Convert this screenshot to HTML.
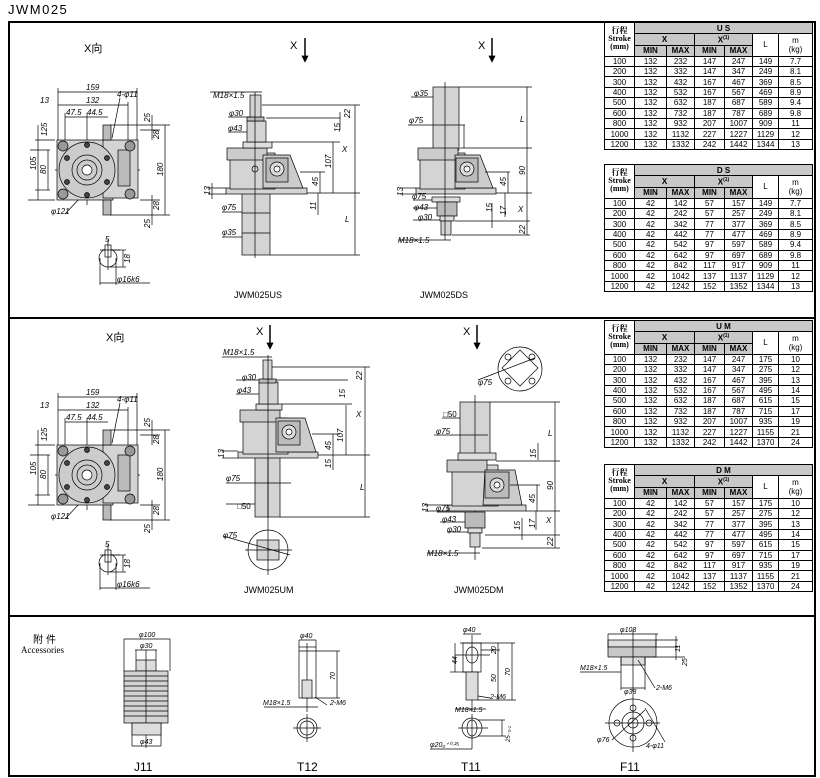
<!DOCTYPE html>
<html><head><meta charset="utf-8"><style>
body{margin:0;background:#fff;width:820px;height:778px;position:relative;overflow:hidden;font-family:"Liberation Sans",sans-serif}
svg{position:absolute;left:0;top:0}
table{position:absolute;border-collapse:collapse;table-layout:fixed;width:208px;left:604px;font-family:"Liberation Sans","Noto Sans CJK SC",sans-serif;font-size:8px}
td{border:1px solid #000;text-align:center;padding:0;line-height:9px;height:9.4px;overflow:hidden;white-space:nowrap}
td.h{background:#c8c8c8;font-weight:bold}
td.s{font-family:"Liberation Serif","Noto Serif CJK SC",serif;font-size:8px;line-height:8px;font-weight:bold}
tr.hd td{height:10px}
</style></head><body>
<svg width="820" height="778" viewBox="0 0 820 778" font-family="Liberation Sans, Noto Sans CJK SC, sans-serif">
<text x="8" y="14" font-size="13" letter-spacing="1.5">JWM025</text>
<rect x="9" y="22" width="806" height="754" fill="none" stroke="#000" stroke-width="2"/>
<line x1="9" y1="318" x2="815" y2="318" stroke="#000" stroke-width="2"/>
<line x1="9" y1="616" x2="815" y2="616" stroke="#000" stroke-width="2"/>

<text x="84" y="52" font-size="11">X向</text>
<text x="106" y="341" font-size="11">X向</text>
<!-- X-view, top and middle -->
<g id="xv" stroke="#000" stroke-width="0.7" font-size="8" font-style="italic">
<g fill="none">
<line x1="58" y1="92" x2="137" y2="92"/><line x1="58" y1="105" x2="128" y2="105"/><line x1="65" y1="117" x2="108" y2="117"/>
<line x1="58" y1="88" x2="58" y2="200"/><line x1="137" y1="88" x2="137" y2="145"/><line x1="128" y1="102" x2="128" y2="145"/>
<line x1="65" y1="113" x2="65" y2="145"/><line x1="87" y1="113" x2="87" y2="205"/>
<line x1="35" y1="140" x2="55" y2="140"/><line x1="28" y1="200" x2="55" y2="200"/><line x1="30" y1="150" x2="50" y2="150"/><line x1="35" y1="190" x2="50" y2="190"/>
<line x1="38" y1="125" x2="38" y2="200"/><line x1="48" y1="150" x2="48" y2="190"/>
<line x1="110" y1="125" x2="170" y2="125"/><line x1="110" y1="215" x2="170" y2="215"/><line x1="165" y1="125" x2="165" y2="215"/>
<line x1="140" y1="130" x2="160" y2="130"/><line x1="140" y1="200" x2="160" y2="200"/><line x1="152" y1="115" x2="152" y2="140"/><line x1="152" y1="195" x2="152" y2="225"/>
<line x1="55" y1="170" x2="140" y2="170"/>
<line x1="120" y1="98" x2="112" y2="138"/><line x1="65" y1="214" x2="80" y2="198"/>
</g>
<text x="86" y="90" stroke="none">159</text><text x="86" y="103" stroke="none">132</text><text x="40" y="103" stroke="none">13</text>
<text x="66" y="115" stroke="none">47.5</text><text x="87" y="115" stroke="none">44.5</text><text x="117" y="97" stroke="none">4-φ11</text>
<text x="51" y="214" stroke="none">φ121</text>
<text transform="translate(36,170) rotate(-90)" stroke="none">105</text><text transform="translate(46,174) rotate(-90)" stroke="none">80</text>
<text transform="translate(47,136) rotate(-90)" stroke="none">125</text><text transform="translate(163,176) rotate(-90)" stroke="none">180</text>
<text transform="translate(150,122) rotate(-90)" stroke="none">25</text><text transform="translate(159,139) rotate(-90)" stroke="none">28</text>
<text transform="translate(159,210) rotate(-90)" stroke="none">28</text><text transform="translate(150,228) rotate(-90)" stroke="none">25</text>
<rect x="57" y="140" width="56" height="60" fill="#d4d4d4"/>
<rect x="103" y="140" width="35" height="58" fill="#d4d4d4"/>
<rect x="118" y="150" width="12" height="36" fill="#bbb"/>
<rect x="103" y="125" width="8" height="15" fill="#bbb"/><rect x="103" y="200" width="8" height="15" fill="#bbb"/>
<circle cx="87" cy="170" r="28" fill="#ccc"/>
<circle cx="87" cy="170" r="15" fill="none"/><circle cx="87" cy="170" r="10" fill="none"/><circle cx="87" cy="170" r="5" fill="#fff"/>
<circle cx="63" cy="146" r="5" fill="#999"/><circle cx="63" cy="194" r="5" fill="#999"/><circle cx="130" cy="146" r="5" fill="#999"/><circle cx="130" cy="194" r="5" fill="#999"/>
<circle cx="87" cy="145" r="2.5" fill="#444"/><circle cx="87" cy="195" r="2.5" fill="#444"/><circle cx="67" cy="158" r="2.5" fill="#444"/><circle cx="107" cy="158" r="2.5" fill="#444"/><circle cx="67" cy="182" r="2.5" fill="#444"/><circle cx="107" cy="182" r="2.5" fill="#444"/>
<circle cx="108" cy="258" r="9" fill="#fff"/><rect x="105" y="245" width="6" height="12" fill="#fff"/>
<g fill="none"><line x1="100" y1="250" x2="120" y2="250"/><line x1="112" y1="250" x2="126" y2="250"/><line x1="110" y1="267" x2="126" y2="267"/><line x1="123" y1="250" x2="123" y2="267"/><line x1="100" y1="258" x2="100" y2="285"/><line x1="116" y1="258" x2="116" y2="285"/><line x1="100" y1="283" x2="150" y2="283"/><line x1="108" y1="240" x2="108" y2="270"/></g>
<text x="105" y="242" stroke="none">5</text><text transform="translate(130,263) rotate(-90)" stroke="none">18</text><text x="117" y="282" stroke="none">φ16k6</text>
</g>
<use href="#xv" transform="translate(0,305)"/>

<!-- US -->
<g stroke="#000" stroke-width="0.7" font-size="8" font-style="italic">
<text x="290" y="49" font-size="11" font-style="normal" stroke="none">X</text><line x1="305" y1="38" x2="305" y2="58" stroke-width="1.5"/><path d="M302,56 L305,62 L308,56Z"/>
<rect x="242" y="193" width="28" height="62" fill="#d4d4d4"/>
<line x1="242" y1="213" x2="270" y2="213"/><line x1="242" y1="233" x2="270" y2="233"/>
<rect x="226" y="188" width="81" height="6" fill="#d4d4d4"/>
<rect x="230" y="153" width="45" height="36" fill="#d4d4d4"/>
<rect x="227" y="148" width="40" height="12" fill="#ccc"/>
<path d="M263,155 L290,155 L303,188 L263,188Z" fill="#ccc"/>
<rect x="266" y="158" width="22" height="24" fill="#bbb"/><circle cx="277" cy="169" r="7" fill="#ddd"/><circle cx="277" cy="169" r="3" fill="#fff"/>
<rect x="243" y="142" width="29" height="6" fill="#ddd"/>
<rect x="247" y="121" width="19" height="21" fill="#d4d4d4"/>
<rect x="247" y="117" width="17" height="4" fill="#bbb"/>
<rect x="250" y="95" width="11" height="22" fill="#d4d4d4"/>
<circle cx="255" cy="169" r="3" fill="none"/>
<g fill="none">
<line x1="255" y1="92" x2="255" y2="258"/><line x1="262" y1="105" x2="360" y2="105"/><line x1="266" y1="118" x2="340" y2="118"/><line x1="272" y1="142" x2="340" y2="142"/>
<line x1="210" y1="92" x2="262" y2="92"/><line x1="228" y1="117" x2="250" y2="117"/><line x1="228" y1="132" x2="247" y2="132"/>
<line x1="222" y1="212" x2="242" y2="212"/><line x1="222" y1="237" x2="242" y2="237"/>
<line x1="300" y1="172" x2="325" y2="172"/><line x1="307" y1="193" x2="360" y2="193"/><line x1="270" y1="255" x2="360" y2="255"/>
<line x1="355" y1="105" x2="355" y2="255"/><line x1="333" y1="142" x2="333" y2="193"/><line x1="320" y1="172" x2="320" y2="193"/><line x1="318" y1="193" x2="318" y2="215"/><line x1="340" y1="112" x2="340" y2="130"/>
<line x1="208" y1="188" x2="226" y2="188"/><line x1="208" y1="194" x2="226" y2="194"/><line x1="212" y1="183" x2="212" y2="199"/>
</g>
<text x="213" y="98" stroke="none">M18×1.5</text><text x="229" y="116" stroke="none">φ30</text><text x="228" y="131" stroke="none">φ43</text><text x="222" y="210" stroke="none">φ75</text><text x="222" y="235" stroke="none">φ35</text>
<text transform="translate(350,118) rotate(-90)" stroke="none">22</text><text transform="translate(340,132) rotate(-90)" stroke="none">15</text><text x="342" y="152" stroke="none">X</text>
<text transform="translate(331,168) rotate(-90)" stroke="none">107</text><text transform="translate(318,186) rotate(-90)" stroke="none">45</text><text transform="translate(316,210) rotate(-90)" stroke="none">11</text><text transform="translate(210,195) rotate(-90)" stroke="none">13</text><text x="345" y="222" stroke="none">L</text>
<text x="234" y="298" font-size="9" font-style="normal" stroke="none">JWM025US</text>
</g>

<!-- DS -->
<g stroke="#000" stroke-width="0.7" font-size="8" font-style="italic">
<text x="478" y="49" font-size="11" font-style="normal" stroke="none">X</text><line x1="492" y1="38" x2="492" y2="58" stroke-width="1.5"/><path d="M489,56 L492,62 L495,56Z"/>
<rect x="433" y="87" width="26" height="63" fill="#d4d4d4"/>
<rect x="416" y="188" width="80" height="6" fill="#d4d4d4"/>
<rect x="420" y="153" width="45" height="36" fill="#d4d4d4"/>
<rect x="418" y="148" width="40" height="12" fill="#ccc"/>
<path d="M455,155 L480,155 L493,188 L455,188Z" fill="#ccc"/>
<rect x="456" y="158" width="22" height="24" fill="#bbb"/><circle cx="467" cy="169" r="7" fill="#ddd"/><circle cx="467" cy="169" r="3" fill="#fff"/>
<rect x="432" y="197" width="28" height="5" fill="#ddd"/><rect x="437" y="202" width="20" height="14" fill="#bbb"/><rect x="440" y="216" width="14" height="5" fill="#ddd"/><rect x="441" y="221" width="10" height="14" fill="#d4d4d4"/>
<g fill="none">
<line x1="445" y1="82" x2="445" y2="240"/><line x1="459" y1="87" x2="532" y2="87"/><line x1="460" y1="148" x2="532" y2="148"/><line x1="496" y1="193" x2="532" y2="193"/>
<line x1="485" y1="172" x2="510" y2="172"/><line x1="527" y1="87" x2="527" y2="235"/><line x1="508" y1="172" x2="508" y2="193"/><line x1="505" y1="193" x2="505" y2="217"/><line x1="455" y1="221" x2="530" y2="221"/><line x1="452" y1="235" x2="530" y2="235"/><line x1="492" y1="203" x2="492" y2="228"/>
<line x1="411" y1="97" x2="433" y2="97"/><line x1="408" y1="125" x2="465" y2="125"/><line x1="464" y1="125" x2="464" y2="148"/><line x1="413" y1="200" x2="432" y2="200"/><line x1="413" y1="208" x2="437" y2="208"/><line x1="413" y1="220" x2="440" y2="220"/><line x1="398" y1="240" x2="451" y2="240"/>
<line x1="400" y1="188" x2="416" y2="188"/><line x1="400" y1="194" x2="416" y2="194"/>
</g>
<text x="414" y="96" stroke="none">φ35</text><text x="409" y="123" stroke="none">φ75</text><text x="412" y="199" stroke="none">φ75</text><text x="414" y="210" stroke="none">φ43</text><text x="418" y="220" stroke="none">φ30</text><text x="398" y="243" stroke="none">M18×1.5</text>
<text x="520" y="122" stroke="none">L</text><text transform="translate(525,175) rotate(-90)" stroke="none">90</text><text transform="translate(506,186) rotate(-90)" stroke="none">45</text><text x="518" y="212" stroke="none">X</text>
<text transform="translate(506,215) rotate(-90)" stroke="none">17</text><text transform="translate(492,212) rotate(-90)" stroke="none">15</text><text transform="translate(525,234) rotate(-90)" stroke="none">22</text><text transform="translate(403,196) rotate(-90)" stroke="none">13</text>
<text x="420" y="298" font-size="9" font-style="normal" stroke="none">JWM025DS</text>
</g>

<!-- UM -->
<g stroke="#000" stroke-width="0.7" font-size="8" font-style="italic">
<text x="256" y="335" font-size="11" font-style="normal" stroke="none">X</text><line x1="270" y1="325" x2="270" y2="345" stroke-width="1.5"/><path d="M267,343 L270,349 L273,343Z"/>
<rect x="255" y="457" width="25" height="60" fill="#d4d4d4"/><line x1="268" y1="457" x2="268" y2="517"/>
<rect x="238" y="452" width="80" height="6" fill="#d4d4d4"/>
<rect x="243" y="418" width="45" height="36" fill="#d4d4d4"/>
<rect x="240" y="410" width="40" height="12" fill="#ccc"/>
<path d="M276,418 L305,418 L316,452 L276,452Z" fill="#ccc"/>
<rect x="278" y="421" width="22" height="24" fill="#bbb"/><circle cx="289" cy="432" r="7" fill="#ddd"/><circle cx="289" cy="432" r="3" fill="#fff"/>
<rect x="256" y="404" width="26" height="6" fill="#ddd"/><rect x="259" y="382" width="19" height="22" fill="#d4d4d4"/><rect x="259" y="379" width="17" height="4" fill="#bbb"/><rect x="263" y="360" width="9" height="19" fill="#d4d4d4"/>
<circle cx="268" cy="550" r="20" fill="none"/><rect x="257" y="540" width="22" height="20" fill="#d4d4d4"/>
<g fill="none">
<line x1="268" y1="355" x2="268" y2="575"/><line x1="245" y1="550" x2="292" y2="550"/><line x1="223" y1="536" x2="290" y2="555"/>
<line x1="272" y1="367" x2="370" y2="367"/><line x1="276" y1="380" x2="348" y2="380"/><line x1="282" y1="404" x2="352" y2="404"/><line x1="318" y1="455" x2="370" y2="455"/><line x1="280" y1="517" x2="370" y2="517"/>
<line x1="365" y1="367" x2="365" y2="517"/><line x1="346" y1="405" x2="346" y2="455"/><line x1="333" y1="434" x2="333" y2="470"/><line x1="312" y1="434" x2="340" y2="434"/>
<line x1="222" y1="357" x2="272" y2="357"/><line x1="236" y1="380" x2="259" y2="380"/><line x1="236" y1="394" x2="259" y2="394"/><line x1="226" y1="483" x2="291" y2="483"/><line x1="226" y1="504" x2="255" y2="504"/>
<line x1="222" y1="451" x2="238" y2="451"/><line x1="222" y1="458" x2="238" y2="458"/>
</g>
<text x="223" y="355" stroke="none">M18×1.5</text><text x="242" y="380" stroke="none">φ30</text><text x="237" y="393" stroke="none">φ43</text><text x="226" y="481" stroke="none">φ75</text><text x="237" y="509" font-style="normal" stroke="none">□50</text><text x="223" y="538" stroke="none">φ75</text>
<text transform="translate(362,380) rotate(-90)" stroke="none">22</text><text transform="translate(345,398) rotate(-90)" stroke="none">15</text><text x="356" y="417" stroke="none">X</text>
<text transform="translate(343,442) rotate(-90)" stroke="none">107</text><text transform="translate(331,450) rotate(-90)" stroke="none">45</text><text transform="translate(331,468) rotate(-90)" stroke="none">15</text><text x="360" y="490" stroke="none">L</text><text transform="translate(224,458) rotate(-90)" stroke="none">13</text>
<text x="244" y="593" font-size="9" font-style="normal" stroke="none">JWM025UM</text>
</g>

<!-- DM -->
<g stroke="#000" stroke-width="0.7" font-size="8" font-style="italic">
<text x="463" y="335" font-size="11" font-style="normal" stroke="none">X</text><line x1="477" y1="325" x2="477" y2="345" stroke-width="1.5"/><path d="M474,343 L477,349 L480,343Z"/>
<circle cx="520" cy="369" r="22" fill="none"/><path d="M520,350 L538,368 L520,386 L502,368Z" fill="none"/>
<circle cx="508" cy="357" r="3" fill="none"/><circle cx="532" cy="357" r="3" fill="none"/><circle cx="508" cy="381" r="3" fill="none"/><circle cx="532" cy="381" r="3" fill="none"/>
<line x1="478" y1="380" x2="535" y2="358" fill="none"/>
<rect x="460" y="402" width="30" height="53" fill="#d4d4d4"/><line x1="475" y1="395" x2="475" y2="560"/>
<rect x="448" y="505" width="78" height="6" fill="#d4d4d4"/>
<rect x="452" y="465" width="46" height="41" fill="#d4d4d4"/>
<rect x="447" y="460" width="40" height="12" fill="#ccc"/><rect x="458" y="453" width="38" height="7" fill="#ddd"/>
<path d="M485,470 L515,470 L522,505 L483,505Z" fill="#ccc"/>
<rect x="485" y="472" width="24" height="26" fill="#bbb"/><circle cx="497" cy="485" r="7" fill="#ddd"/><circle cx="497" cy="485" r="3" fill="#fff"/>
<rect x="465" y="512" width="20" height="16" fill="#bbb"/><rect x="468" y="528" width="14" height="5" fill="#ddd"/><rect x="470" y="533" width="10" height="14" fill="#d4d4d4"/>
<g fill="none">
<line x1="490" y1="402" x2="560" y2="402"/><line x1="496" y1="461" x2="560" y2="461"/><line x1="526" y1="511" x2="560" y2="511"/><line x1="485" y1="535" x2="560" y2="535"/><line x1="482" y1="548" x2="560" y2="548"/>
<line x1="555" y1="402" x2="555" y2="548"/><line x1="538" y1="443" x2="538" y2="460"/><line x1="537" y1="485" x2="537" y2="511"/><line x1="536" y1="511" x2="536" y2="530"/><line x1="522" y1="518" x2="522" y2="540"/><line x1="510" y1="485" x2="540" y2="485"/>
<line x1="442" y1="418" x2="460" y2="418"/><line x1="434" y1="435" x2="488" y2="435"/><line x1="437" y1="512" x2="465" y2="512"/><line x1="440" y1="522" x2="465" y2="522"/><line x1="447" y1="532" x2="468" y2="532"/><line x1="427" y1="553" x2="480" y2="553"/>
<line x1="425" y1="505" x2="448" y2="505"/><line x1="425" y1="511" x2="448" y2="511"/>
</g>
<text x="478" y="385" stroke="none">φ75</text><text x="443" y="417" font-style="normal" stroke="none">□50</text><text x="436" y="434" stroke="none">φ75</text><text x="436" y="511" stroke="none">φ75</text><text x="442" y="522" stroke="none">φ43</text><text x="447" y="532" stroke="none">φ30</text><text x="427" y="556" stroke="none">M18×1.5</text>
<text x="548" y="436" stroke="none">L</text><text transform="translate(536,458) rotate(-90)" stroke="none">15</text><text transform="translate(553,490) rotate(-90)" stroke="none">90</text><text transform="translate(535,503) rotate(-90)" stroke="none">45</text><text x="546" y="523" stroke="none">X</text>
<text transform="translate(535,528) rotate(-90)" stroke="none">17</text><text transform="translate(520,530) rotate(-90)" stroke="none">15</text><text transform="translate(553,546) rotate(-90)" stroke="none">22</text><text transform="translate(428,512) rotate(-90)" stroke="none">13</text>
<text x="454" y="593" font-size="9" font-style="normal" stroke="none">JWM025DM</text>
</g>

<!-- Accessories -->
<g stroke="#000" stroke-width="0.7" font-size="7" font-style="italic">
<text x="33" y="643" font-size="10" font-style="normal" stroke="none" letter-spacing="3">附件</text>
<text x="21" y="653" font-size="9" font-style="normal" stroke="none" font-family="Liberation Serif, serif">Accessories</text>
<!-- J11 -->
<rect x="136" y="660" width="20" height="11" fill="#ddd"/>
<rect x="124" y="671" width="44" height="52" fill="#d4d4d4"/>
<g fill="none"><line x1="124" y1="676" x2="168" y2="676"/><line x1="124" y1="681" x2="168" y2="681"/><line x1="124" y1="686" x2="168" y2="686"/><line x1="124" y1="691" x2="168" y2="691"/><line x1="124" y1="696" x2="168" y2="696"/><line x1="124" y1="701" x2="168" y2="701"/><line x1="124" y1="706" x2="168" y2="706"/><line x1="124" y1="711" x2="168" y2="711"/><line x1="124" y1="716" x2="168" y2="716"/>
<line x1="146" y1="650" x2="146" y2="748"/><line x1="124" y1="639" x2="170" y2="639"/><line x1="124" y1="639" x2="124" y2="671"/><line x1="170" y1="639" x2="170" y2="671"/><line x1="135" y1="650" x2="157" y2="650"/><line x1="136" y1="650" x2="136" y2="660"/><line x1="156" y1="650" x2="156" y2="660"/>
<line x1="132" y1="746" x2="161" y2="746"/><line x1="132" y1="723" x2="132" y2="746"/><line x1="161" y1="723" x2="161" y2="746"/></g>
<rect x="132" y="723" width="29" height="12" fill="#ddd"/>
<text x="139" y="637" stroke="none">φ100</text><text x="140" y="648" stroke="none">φ30</text><text x="140" y="744" stroke="none">φ43</text>
<text x="134" y="771" font-size="12" font-style="normal" stroke="none">J11</text>
<!-- T12 -->
<g fill="none"><rect x="299" y="647" width="17" height="51"/><line x1="299" y1="651" x2="340" y2="651"/><line x1="299" y1="640" x2="316" y2="640"/><line x1="299" y1="640" x2="299" y2="647"/><line x1="316" y1="640" x2="316" y2="647"/><line x1="307" y1="643" x2="307" y2="712"/><line x1="337" y1="651" x2="337" y2="698"/><line x1="316" y1="698" x2="340" y2="698"/><line x1="264" y1="707" x2="318" y2="707"/><line x1="315" y1="697" x2="327" y2="705"/>
<circle cx="307" cy="728" r="10"/><circle cx="307" cy="728" r="7"/><line x1="293" y1="728" x2="321" y2="728"/><line x1="307" y1="714" x2="307" y2="742"/></g>
<rect x="302" y="680" width="10" height="18" fill="#ddd"/>
<text x="300" y="638" stroke="none">φ40</text><text transform="translate(335,680) rotate(-90)" stroke="none">70</text><text x="263" y="705" stroke="none">M18×1.5</text><text x="330" y="705" stroke="none">2-M6</text>
<text x="297" y="771" font-size="12" font-style="normal" stroke="none">T12</text>
<!-- T11 -->
<g fill="none"><rect x="463" y="643" width="18" height="29"/><ellipse cx="472" cy="655" rx="6" ry="8"/><line x1="455" y1="655" x2="490" y2="655"/><line x1="472" y1="635" x2="472" y2="712"/>
<line x1="460" y1="643" x2="515" y2="643"/><line x1="450" y1="672" x2="466" y2="672"/><line x1="455" y1="643" x2="455" y2="672"/><line x1="481" y1="650" x2="500" y2="650"/><line x1="498" y1="643" x2="498" y2="700"/><line x1="512" y1="643" x2="512" y2="700"/><line x1="478" y1="700" x2="516" y2="700"/>
<line x1="463" y1="634" x2="481" y2="634"/><line x1="455" y1="709" x2="486" y2="709"/><line x1="478" y1="696" x2="490" y2="698"/></g>
<rect x="466" y="672" width="12" height="28" fill="#ddd"/>
<g fill="none"><circle cx="472" cy="728" r="10"/><ellipse cx="472" cy="728" rx="5" ry="8"/><line x1="458" y1="728" x2="488" y2="728"/><line x1="472" y1="714" x2="472" y2="749"/><line x1="478" y1="720" x2="505" y2="720"/><line x1="478" y1="736" x2="505" y2="736"/><line x1="502" y1="720" x2="502" y2="736"/><line x1="430" y1="749" x2="472" y2="749"/></g>
<text x="463" y="632" stroke="none">φ40</text><text transform="translate(457,664) rotate(-90)" stroke="none">44</text><text transform="translate(496,654) rotate(-90)" stroke="none">20</text><text transform="translate(496,682) rotate(-90)" stroke="none">50</text><text transform="translate(510,676) rotate(-90)" stroke="none">70</text>
<text x="490" y="699" stroke="none">2-M6</text><text x="455" y="712" stroke="none">M18×1.5</text><text transform="translate(510,742) rotate(-90)" stroke="none" font-size="6">25₋₀.₁</text><text x="430" y="747" stroke="none">φ20₀⁺⁰·²⁵</text>
<text x="461" y="771" font-size="12" font-style="normal" stroke="none">T11</text>
<!-- F11 -->
<rect x="608" y="640" width="48" height="7" fill="#ddd"/><rect x="608" y="647" width="48" height="10" fill="#c8c8c8"/><rect x="621" y="657" width="24" height="8" fill="#ddd"/>
<g fill="none"><line x1="608" y1="634" x2="658" y2="634"/><line x1="608" y1="634" x2="608" y2="647"/><line x1="656" y1="634" x2="656" y2="647"/><line x1="633" y1="630" x2="633" y2="692"/><line x1="656" y1="640" x2="678" y2="640"/><line x1="656" y1="647" x2="678" y2="647"/><line x1="645" y1="657" x2="685" y2="657"/><line x1="676" y1="636" x2="676" y2="660"/>
<line x1="621" y1="657" x2="621" y2="690"/><line x1="645" y1="657" x2="645" y2="690"/><line x1="621" y1="688" x2="645" y2="688"/><line x1="580" y1="672" x2="621" y2="672"/><line x1="638" y1="660" x2="655" y2="688"/>
<circle cx="633" cy="723" r="24"/><circle cx="633" cy="723" r="11"/><circle cx="633" cy="723" r="5"/><circle cx="633" cy="708" r="3"/><circle cx="633" cy="738" r="3"/><circle cx="617" cy="723" r="3"/><circle cx="649" cy="723" r="3"/>
<line x1="605" y1="723" x2="660" y2="723"/><line x1="633" y1="694" x2="633" y2="752"/><line x1="612" y1="740" x2="645" y2="710"/><line x1="645" y1="708" x2="665" y2="742"/></g>
<text x="620" y="632" stroke="none">φ108</text><text transform="translate(680,652) rotate(-90)" stroke="none">11</text><text transform="translate(687,666) rotate(-90)" stroke="none">25</text>
<text x="580" y="670" stroke="none">M18×1.5</text><text x="624" y="694" stroke="none">φ38</text><text x="656" y="690" stroke="none">2-M6</text><text x="597" y="742" stroke="none">φ76</text><text x="646" y="748" stroke="none">4-φ11</text>
<text x="620" y="771" font-size="12" font-style="normal" stroke="none">F11</text>
</g>
</svg>

<table style="top:22px"><colgroup><col style="width:30px"><col style="width:32px"><col style="width:28px"><col style="width:30px"><col style="width:28px"><col style="width:26px"><col style="width:34px"></colgroup>
<tr class="hd"><td rowspan="3" class="s">行程<br>Stroke<br>(mm)</td><td colspan="6" class="h">U S</td></tr>
<tr class="hd"><td colspan="2" class="h">X</td><td colspan="2" class="h">X<sup style="font-size:5px">(1)</sup></td><td rowspan="2">L</td><td rowspan="2">m<br>(kg)</td></tr>
<tr class="hd"><td class="h">MIN</td><td class="h">MAX</td><td class="h">MIN</td><td class="h">MAX</td></tr>
<tr><td>100</td><td>132</td><td>232</td><td>147</td><td>247</td><td>149</td><td>7.7</td></tr>
<tr><td>200</td><td>132</td><td>332</td><td>147</td><td>347</td><td>249</td><td>8.1</td></tr>
<tr><td>300</td><td>132</td><td>432</td><td>167</td><td>467</td><td>369</td><td>8.5</td></tr>
<tr><td>400</td><td>132</td><td>532</td><td>167</td><td>567</td><td>469</td><td>8.9</td></tr>
<tr><td>500</td><td>132</td><td>632</td><td>187</td><td>687</td><td>589</td><td>9.4</td></tr>
<tr><td>600</td><td>132</td><td>732</td><td>187</td><td>787</td><td>689</td><td>9.8</td></tr>
<tr><td>800</td><td>132</td><td>932</td><td>207</td><td>1007</td><td>909</td><td>11</td></tr>
<tr><td>1000</td><td>132</td><td>1132</td><td>227</td><td>1227</td><td>1129</td><td>12</td></tr>
<tr><td>1200</td><td>132</td><td>1332</td><td>242</td><td>1442</td><td>1344</td><td>13</td></tr>
</table>
<table style="top:164px"><colgroup><col style="width:30px"><col style="width:32px"><col style="width:28px"><col style="width:30px"><col style="width:28px"><col style="width:26px"><col style="width:34px"></colgroup>
<tr class="hd"><td rowspan="3" class="s">行程<br>Stroke<br>(mm)</td><td colspan="6" class="h">D S</td></tr>
<tr class="hd"><td colspan="2" class="h">X</td><td colspan="2" class="h">X<sup style="font-size:5px">(1)</sup></td><td rowspan="2">L</td><td rowspan="2">m<br>(kg)</td></tr>
<tr class="hd"><td class="h">MIN</td><td class="h">MAX</td><td class="h">MIN</td><td class="h">MAX</td></tr>
<tr><td>100</td><td>42</td><td>142</td><td>57</td><td>157</td><td>149</td><td>7.7</td></tr>
<tr><td>200</td><td>42</td><td>242</td><td>57</td><td>257</td><td>249</td><td>8.1</td></tr>
<tr><td>300</td><td>42</td><td>342</td><td>77</td><td>377</td><td>369</td><td>8.5</td></tr>
<tr><td>400</td><td>42</td><td>442</td><td>77</td><td>477</td><td>469</td><td>8.9</td></tr>
<tr><td>500</td><td>42</td><td>542</td><td>97</td><td>597</td><td>589</td><td>9.4</td></tr>
<tr><td>600</td><td>42</td><td>642</td><td>97</td><td>697</td><td>689</td><td>9.8</td></tr>
<tr><td>800</td><td>42</td><td>842</td><td>117</td><td>917</td><td>909</td><td>11</td></tr>
<tr><td>1000</td><td>42</td><td>1042</td><td>137</td><td>1137</td><td>1129</td><td>12</td></tr>
<tr><td>1200</td><td>42</td><td>1242</td><td>152</td><td>1352</td><td>1344</td><td>13</td></tr>
</table>
<table style="top:320px"><colgroup><col style="width:30px"><col style="width:32px"><col style="width:28px"><col style="width:30px"><col style="width:28px"><col style="width:26px"><col style="width:34px"></colgroup>
<tr class="hd"><td rowspan="3" class="s">行程<br>Stroke<br>(mm)</td><td colspan="6" class="h">U M</td></tr>
<tr class="hd"><td colspan="2" class="h">X</td><td colspan="2" class="h">X<sup style="font-size:5px">(1)</sup></td><td rowspan="2">L</td><td rowspan="2">m<br>(kg)</td></tr>
<tr class="hd"><td class="h">MIN</td><td class="h">MAX</td><td class="h">MIN</td><td class="h">MAX</td></tr>
<tr><td>100</td><td>132</td><td>232</td><td>147</td><td>247</td><td>175</td><td>10</td></tr>
<tr><td>200</td><td>132</td><td>332</td><td>147</td><td>347</td><td>275</td><td>12</td></tr>
<tr><td>300</td><td>132</td><td>432</td><td>167</td><td>467</td><td>395</td><td>13</td></tr>
<tr><td>400</td><td>132</td><td>532</td><td>167</td><td>567</td><td>495</td><td>14</td></tr>
<tr><td>500</td><td>132</td><td>632</td><td>187</td><td>687</td><td>615</td><td>15</td></tr>
<tr><td>600</td><td>132</td><td>732</td><td>187</td><td>787</td><td>715</td><td>17</td></tr>
<tr><td>800</td><td>132</td><td>932</td><td>207</td><td>1007</td><td>935</td><td>19</td></tr>
<tr><td>1000</td><td>132</td><td>1132</td><td>227</td><td>1227</td><td>1155</td><td>21</td></tr>
<tr><td>1200</td><td>132</td><td>1332</td><td>242</td><td>1442</td><td>1370</td><td>24</td></tr>
</table>
<table style="top:464px"><colgroup><col style="width:30px"><col style="width:32px"><col style="width:28px"><col style="width:30px"><col style="width:28px"><col style="width:26px"><col style="width:34px"></colgroup>
<tr class="hd"><td rowspan="3" class="s">行程<br>Stroke<br>(mm)</td><td colspan="6" class="h">D M</td></tr>
<tr class="hd"><td colspan="2" class="h">X</td><td colspan="2" class="h">X<sup style="font-size:5px">(1)</sup></td><td rowspan="2">L</td><td rowspan="2">m<br>(kg)</td></tr>
<tr class="hd"><td class="h">MIN</td><td class="h">MAX</td><td class="h">MIN</td><td class="h">MAX</td></tr>
<tr><td>100</td><td>42</td><td>142</td><td>57</td><td>157</td><td>175</td><td>10</td></tr>
<tr><td>200</td><td>42</td><td>242</td><td>57</td><td>257</td><td>275</td><td>12</td></tr>
<tr><td>300</td><td>42</td><td>342</td><td>77</td><td>377</td><td>395</td><td>13</td></tr>
<tr><td>400</td><td>42</td><td>442</td><td>77</td><td>477</td><td>495</td><td>14</td></tr>
<tr><td>500</td><td>42</td><td>542</td><td>97</td><td>597</td><td>615</td><td>15</td></tr>
<tr><td>600</td><td>42</td><td>642</td><td>97</td><td>697</td><td>715</td><td>17</td></tr>
<tr><td>800</td><td>42</td><td>842</td><td>117</td><td>917</td><td>935</td><td>19</td></tr>
<tr><td>1000</td><td>42</td><td>1042</td><td>137</td><td>1137</td><td>1155</td><td>21</td></tr>
<tr><td>1200</td><td>42</td><td>1242</td><td>152</td><td>1352</td><td>1370</td><td>24</td></tr>
</table>
</body></html>
